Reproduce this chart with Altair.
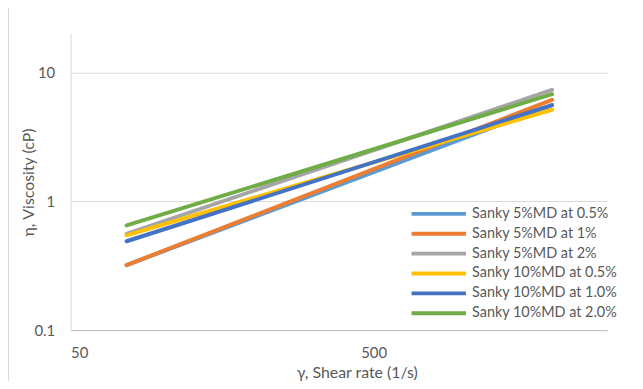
import altair as alt
import pandas as pd

series = [
    "Sanky 5%MD at 0.5%",
    "Sanky 5%MD at 1%",
    "Sanky 5%MD at 2%",
    "Sanky 10%MD at 0.5%",
    "Sanky 10%MD at 1.0%",
    "Sanky 10%MD at 2.0%",
]
colors = ["#5B9BD5", "#ED7D31", "#A5A5A5", "#FFC000", "#4472C4", "#70AD47"]
shear_rate = [76.5, 1940]
visc_5_05 = [0.32, 5.6]
visc_5_1 = [0.32, 6.15]
visc_5_2 = [0.56, 7.35]
visc_10_05 = [0.545, 5.15]
visc_10_1 = [0.49, 5.6]
visc_10_2 = [0.65, 6.8]

all_vals = [visc_5_05, visc_5_1, visc_5_2, visc_10_05, visc_10_1, visc_10_2]
rows = []
for i, (name, vals) in enumerate(zip(series, all_vals)):
    for x, y in zip(shear_rate, vals):
        rows.append({"series": name, "order": i, "x": x, "y": y})
df = pd.DataFrame(rows)

FONT = "Lato"
TXT = "#595959"

lines = alt.Chart(df).mark_line(strokeWidth=4, strokeCap="round").encode(
    x=alt.X("x:Q",
            scale=alt.Scale(type="log", domain=[50, 2950], nice=False),
            axis=alt.Axis(values=[50, 500], format="~g", grid=False, ticks=False,
                          domainColor="#BFBFBF", labelColor=TXT, labelFontSize=15,
                          labelFont=FONT, labelPadding=16,
                          title="γ, Shear rate (1/s)", titleFont=FONT,
                          titleFontSize=16, titleFontWeight="normal",
                          titleColor=TXT, titleX=288, titleY=43,
                          titleBaseline="middle")),
    y=alt.Y("y:Q",
            scale=alt.Scale(type="log", domain=[0.1, 20.3], nice=False),
            axis=alt.Axis(values=[0.1, 1, 10], format="~g", grid=True,
                          gridColor="#D9D9D9", ticks=False,
                          domainColor="#D9D9D9", labelColor=TXT, labelFontSize=15,
                          labelFont=FONT, labelPadding=16,
                          title="η, Viscosity (cP)", titleFont=FONT,
                          titleFontSize=16, titleFontWeight="normal",
                          titleColor=TXT, titleX=-42, titleY=150,
                          titleAngle=270, titleBaseline="middle",
                          titleAlign="center")),
    color=alt.Color("series:N",
                    scale=alt.Scale(domain=series, range=colors),
                    legend=alt.Legend(title=None, orient="none", legendX=341,
                                      legendY=172, symbolType="stroke",
                                      symbolStrokeWidth=4, symbolSize=3000,
                                      clipHeight=20,
                                      labelFont=FONT, labelFontSize=14.5,
                                      labelColor=TXT, rowPadding=0,
                                      labelOffset=4)),
    order=alt.Order("order:Q"),
    detail="series:N",
)

border = alt.Chart(df).mark_rule(color="#D9D9D9", strokeWidth=1).encode(
    x=alt.value(-62.5), y=alt.value(-40), y2=alt.value(370)
)

chart = alt.layer(border, lines).properties(
    width=540, height=299,
    autosize=alt.AutoSizeParams(type="none"),
    padding={"left": 63, "top": 24, "right": 28, "bottom": 50},
).configure_view(stroke=None)

chart.save("out.html", embed_options={"renderer": "svg", "actions": False})
